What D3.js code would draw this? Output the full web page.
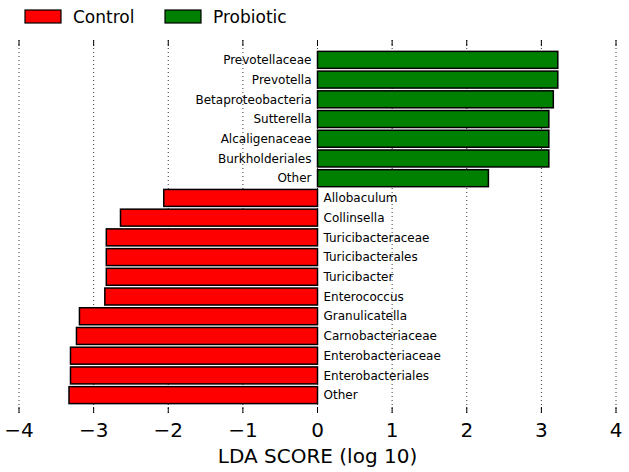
<!DOCTYPE html>
<html>
<head>
<meta charset="utf-8">
<script src="https://cdn.jsdelivr.net/npm/d3@7"></script>
<style>
  body { margin: 0; background: #fff; }
  text { font-family: "DejaVu Sans", sans-serif; }
</style>
</head>
<body>
<div id="chart"></div>
<script>
// taxa from top to bottom
var taxa = ["Prevotellaceae", "Prevotella", "Betaproteobacteria", "Sutterella", "Alcaligenaceae",
  "Burkholderiales", "Other", "Allobaculum", "Collinsella", "Turicibacteraceae", "Turicibacterales",
  "Turicibacter", "Enterococcus", "Granulicatella", "Carnobacteriaceae", "Enterobacteriaceae",
  "Enterobacteriales", "Other "];
var scores = [3.22, 3.22, 3.16, 3.10, 3.10, 3.10, 2.29, -2.06, -2.64, -2.83, -2.83, -2.83, -2.85,
  -3.19, -3.23, -3.31, -3.31, -3.33];
var groups = ["Control", "Probiotic"];
var groupColors = ["#ff0000", "#008000"];
var xTicks = [-4, -3, -2, -1, 0, 1, 2, 3, 4];

var width = 629, height = 472;
var svg = d3.select("#chart").append("svg").attr("width", width).attr("height", height);

var x = d3.scaleLinear().domain([-4, 4]).range([19, 616]);
var y = d3.scaleBand().domain(d3.range(taxa.length)).range([50, 405]).paddingInner(0.14).paddingOuter(0.07);
var plotTop = 40, plotBottom = 413;

// dotted grid
svg.append("g").selectAll("line").data(xTicks).enter().append("line")
  .attr("x1", function(d) { return x(d); }).attr("x2", function(d) { return x(d); })
  .attr("y1", plotTop).attr("y2", plotBottom)
  .attr("stroke", "#000").attr("stroke-width", 0.8).attr("stroke-dasharray", "1,3");

// bars
svg.append("g").selectAll("rect").data(scores).enter().append("rect")
  .attr("x", function(d) { return x(Math.min(0, d)); })
  .attr("y", function(d, i) { return y(i); })
  .attr("width", function(d) { return Math.abs(x(d) - x(0)); })
  .attr("height", y.bandwidth())
  .attr("fill", function(d) { return d > 0 ? groupColors[1] : groupColors[0]; })
  .attr("stroke", "#000").attr("stroke-width", 1.5);

// bar labels on opposite side of zero
svg.append("g").selectAll("text").data(scores).enter().append("text")
  .attr("x", function(d) { return d > 0 ? x(0) - 6 : x(0) + 6; })
  .attr("y", function(d, i) { return y(i) + y.bandwidth() / 2; })
  .attr("dy", "0.35em")
  .attr("text-anchor", function(d) { return d > 0 ? "end" : "start"; })
  .attr("font-size", 12)
  .text(function(d, i) { return taxa[i].trim(); });

// axis ticks top and bottom (inward)
var tk = svg.append("g");
xTicks.forEach(function(t) {
  tk.append("line").attr("x1", x(t)).attr("x2", x(t)).attr("y1", plotTop).attr("y2", plotTop + 6)
    .attr("stroke", "#000").attr("stroke-width", 1);
  tk.append("line").attr("x1", x(t)).attr("x2", x(t)).attr("y1", plotBottom - 6).attr("y2", plotBottom)
    .attr("stroke", "#000").attr("stroke-width", 1);
});

var fmt = function(d) { return d < 0 ? "\u2212" + Math.abs(d) : String(d); };
svg.append("g").selectAll("text").data(xTicks).enter().append("text")
  .attr("x", function(d) { return x(d); })
  .attr("y", 437)
  .attr("text-anchor", "middle")
  .attr("font-size", 20)
  .text(fmt);

svg.append("text").attr("x", x(0)).attr("y", 463).attr("text-anchor", "middle")
  .attr("font-size", 20).text("LDA SCORE (log 10)");

// legend
var lg = svg.append("g");
var legX = [25, 165];
groups.forEach(function(g, i) {
  lg.append("rect").attr("x", legX[i]).attr("y", 10).attr("width", 36).attr("height", 13)
    .attr("fill", groupColors[i]).attr("stroke", "#000").attr("stroke-width", 1.2);
  lg.append("text").attr("x", legX[i] + 48).attr("y", 22.5).attr("font-size", 17).text(g);
});
</script>
</body>
</html>
